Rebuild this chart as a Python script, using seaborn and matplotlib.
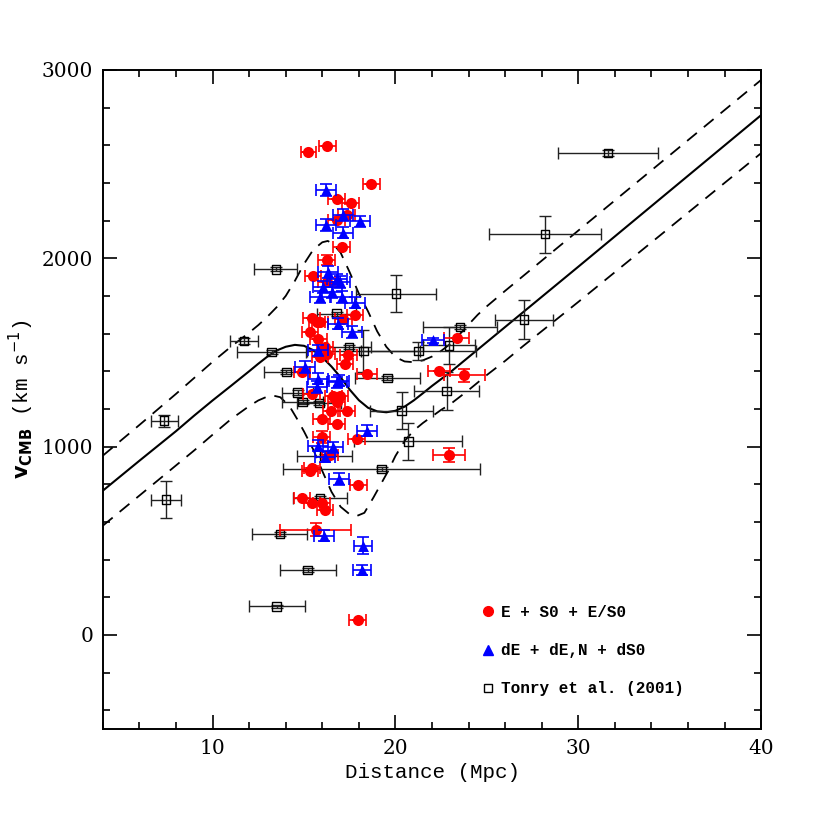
import numpy as np
import pandas as pd
import matplotlib
matplotlib.use("Agg")
import matplotlib.pyplot as plt
from matplotlib.ticker import MultipleLocator
from matplotlib.lines import Line2D
import seaborn as sns

# ---------------- data ----------------
# E + S0 + E/S0 galaxies
red_d = [15.23, 16.27, 18.68, 16.78, 17.55, 16.78, 17.33, 17.05, 16.24, 15.50,
         16.24, 17.79, 15.41, 15.87, 15.32, 17.15, 15.78, 16.14, 16.24, 15.87,
         17.42, 17.24, 18.43, 14.90, 15.41, 16.60, 16.96, 16.78, 16.50, 17.33,
         15.96, 16.78, 17.88, 15.96, 16.42, 15.32, 15.45, 17.97, 14.88, 15.45,
         15.96, 16.16, 15.63, 17.93, 22.40, 23.35, 23.77, 22.93, 15.72]
red_v = [2562, 2597, 2397, 2317, 2294, 2202, 2229, 2058, 1990, 1908,
         1874, 1697, 1682, 1661, 1610, 1679, 1573, 1528, 1493, 1475,
         1484, 1440, 1387, 1395, 1280, 1271, 1271, 1236, 1191, 1191,
         1147, 1121, 1041, 1050, 957, 872, 885, 796, 728, 702,
         698, 664, 559, 78, 1401, 1576, 1378, 956, 1661]
red_derr = [0.42, 0.46, 0.45, 0.45, 0.45, 0.45, 0.45, 0.45, 0.45, 0.45,
            0.45, 0.45, 0.45, 0.45, 0.45, 0.45, 0.45, 0.45, 0.45, 0.45,
            0.45, 0.45, 0.55, 0.45, 0.45, 0.45, 0.45, 0.45, 0.45, 0.45,
            0.45, 0.45, 0.45, 0.45, 0.45, 0.45, 0.45, 0.45, 0.45, 0.45,
            0.45, 0.45, 1.96, 0.45, 0.60, 0.68, 1.14, 0.90, 0.45]
red_verr = [0, 0, 0, 0, 0, 0, 0, 0, 25, 0,
            0, 0, 0, 0, 0, 0, 0, 0, 0, 0,
            0, 0, 0, 0, 0, 0, 0, 0, 0, 0,
            0, 0, 0, 30, 0, 0, 0, 0, 0, 0,
            0, 0, 33, 0, 0, 0, 35, 37, 0]

# dE + dE,N + dS0 galaxies
blue_d = [16.20, 18.06, 17.15, 16.20, 17.13, 16.29, 16.78, 16.05, 16.96, 15.87,
          17.05, 17.79, 15.05, 15.78, 16.78, 15.69, 16.90, 18.43, 15.78, 16.60,
          16.14, 16.93, 22.07, 16.11, 18.24, 18.19, 15.78, 16.55, 17.60, 16.87]
blue_v = [2362, 2196, 2229, 2176, 2135, 1927, 1888, 1848, 1874, 1794,
          1795, 1764, 1422, 1360, 1342, 1316, 1350, 1085, 1005, 996,
          947, 828, 1564, 527, 473, 344, 1511, 1820, 1608, 1652]
blue_derr = [0.55, 0.55, 0.55, 0.55, 0.55, 0.55, 0.55, 0.55, 0.55, 0.55,
             0.55, 0.55, 0.55, 0.55, 0.55, 0.55, 0.55, 0.55, 0.55, 0.55,
             0.55, 0.55, 0.60, 0.55, 0.50, 0.50, 0.55, 0.55, 0.55, 0.55]
blue_verr = [33, 30, 30, 30, 30, 30, 30, 30, 30, 30,
             30, 30, 30, 30, 30, 30, 30, 30, 30, 30,
             30, 30, 15, 30, 44, 25, 30, 30, 30, 30]

# Tonry et al. (2001)
ton_d = [31.63, 28.18, 27.03, 20.03, 13.46, 11.71, 13.23, 7.35, 7.45, 14.04,
         14.65, 14.92, 15.84, 17.46, 18.24, 21.25, 22.93, 23.53, 22.80, 20.34,
         20.70, 19.25, 16.13, 19.56, 16.78, 15.87, 13.68, 15.20, 13.50]
ton_v = [2559, 2128, 1674, 1812, 1941, 1560, 1502, 1137, 718, 1395,
         1286, 1236, 1231, 1528, 1507, 1507, 1537, 1635, 1294, 1191,
         1028, 881, 952, 1365, 1706, 725, 536, 344, 151]
ton_derr = [2.74, 3.06, 1.61, 2.20, 1.18, 0.75, 1.90, 0.73, 0.80, 1.23,
            0.85, 1.10, 1.20, 1.19, 3.10, 3.16, 1.44, 2.05, 1.78, 1.73,
            2.95, 5.40, 1.50, 1.78, 1.05, 1.50, 1.50, 1.54, 1.53]
ton_verr = [15, 98, 102, 100, 10, 15, 10, 31, 100, 10,
            12, 10, 10, 10, 110, 47, 99, 10, 102, 98,
            98, 10, 10, 12, 10, 10, 10, 10, 10]

# model curve (solid) and its envelope (dashed)
mod_d = [4.0, 6.0, 8.0, 9.0, 10.0, 11.0, 12.0, 12.5, 13.0, 13.5, 14.0, 14.5,
         15.0, 15.5, 16.0, 16.5, 17.0, 17.5, 18.0, 18.5, 19.0, 19.5, 20.0,
         20.5, 21.0, 21.5, 22.0, 23.0, 24.0, 25.0, 26.0, 28.0, 30.0, 40.0]
mod_v = [766, 925, 1082, 1165, 1245, 1322, 1400, 1440, 1478, 1510, 1530, 1540,
         1535, 1512, 1474, 1425, 1368, 1302, 1246, 1206, 1187, 1182, 1190,
         1212, 1245, 1283, 1322, 1395, 1475, 1555, 1635, 1795, 1955, 2760]

up_d = [4.0, 6.0, 8.0, 9.0, 10.0, 11.0, 12.0, 12.5, 13.0, 13.5, 14.0, 14.5,
        15.0, 15.5, 16.0, 16.3, 16.6, 17.0, 17.5, 18.0, 18.5, 19.0, 19.5,
        20.0, 20.5, 21.0, 21.5, 22.0, 22.5, 23.0, 23.5, 24.0, 24.5, 25.0,
        26.0, 40.0]
up_v = [952, 1115, 1280, 1365, 1450, 1530, 1605, 1645, 1690, 1740, 1800, 1880,
        1970, 2045, 2085, 2092, 2075, 2030, 1925, 1812, 1718, 1612, 1530,
        1475, 1452, 1448, 1458, 1478, 1508, 1545, 1595, 1648, 1700, 1745,
        1827, 2947]

lo_d = [4.0, 6.0, 8.0, 9.0, 10.0, 11.0, 12.0, 12.5, 13.0, 13.3, 13.7, 14.2,
        14.6, 15.0, 15.5, 16.0, 16.5, 17.0, 17.5, 17.9, 18.3, 18.8, 19.2,
        19.6, 20.0, 20.5, 21.0, 21.5, 22.0, 22.5, 23.0, 24.0, 25.0, 26.0,
        27.0, 30.0, 40.0]
lo_v = [580, 740, 900, 980, 1063, 1145, 1215, 1245, 1266, 1271, 1262, 1215,
        1150, 1080, 985, 870, 760, 680, 640, 632, 648, 730, 800,
        870, 950, 1030, 1085, 1125, 1160, 1195, 1225, 1300, 1380, 1455,
        1535, 1768, 2558]

legend_labels = ["E + S0 + E/S0", "dE + dE,N + dS0", "Tonry et al. (2001)"]
xticks = [10, 20, 30, 40]
yticks = [0, 1000, 2000, 3000]

# ---------------- plotting ----------------
sns.set_theme(style="white")
plt.rcParams["font.family"] = ["DejaVu Serif", "DejaVu Sans"]
plt.rcParams["text.color"] = "black"
plt.rcParams["axes.labelcolor"] = "black"
plt.rcParams["xtick.color"] = "black"
plt.rcParams["ytick.color"] = "black"
plt.rcParams["axes.edgecolor"] = "black"

fig = plt.figure(figsize=(8.3, 8.3), dpi=100)
ax = fig.add_axes([0.124, 0.1217, 0.793, 0.794])

red_df = pd.DataFrame({"d": red_d, "v": red_v})
blue_df = pd.DataFrame({"d": blue_d, "v": blue_v})
ton_df = pd.DataFrame({"d": ton_d, "v": ton_v})

# model lines
sns.lineplot(x=mod_d, y=mod_v, ax=ax, color="black", lw=1.5, sort=False,
             estimator=None, zorder=2)
sns.lineplot(x=up_d, y=up_v, ax=ax, color="black", lw=1.3, sort=False,
             estimator=None, zorder=2)
sns.lineplot(x=lo_d, y=lo_v, ax=ax, color="black", lw=1.3, sort=False,
             estimator=None, zorder=2)
for ln in ax.lines[1:3]:
    ln.set_dashes([7, 5])

# Tonry
ax.errorbar(ton_d, ton_v, xerr=ton_derr, yerr=ton_verr, fmt="none",
            ecolor="#222222", elinewidth=1.0, capsize=4, capthick=1.0, zorder=3)
sns.scatterplot(data=ton_df, x="d", y="v", ax=ax, marker="s", s=38,
                facecolor="none", edgecolor="black", linewidth=1.0, zorder=4)

# red
ax.errorbar(red_d, red_v, xerr=red_derr, yerr=red_verr, fmt="none",
            ecolor="red", elinewidth=1.2, capsize=4, capthick=1.2, zorder=5)
sns.scatterplot(data=red_df, x="d", y="v", ax=ax, marker="o", s=64,
                color="red", edgecolor="red", linewidth=0, zorder=6)

# blue
ax.errorbar(blue_d, blue_v, xerr=blue_derr, yerr=blue_verr, fmt="none",
            ecolor="blue", elinewidth=1.2, capsize=4, capthick=1.2, zorder=7)
sns.scatterplot(data=blue_df, x="d", y="v", ax=ax, marker="^", s=62,
                color="blue", edgecolor="blue", linewidth=0, zorder=8)

ax.set_xlim(4, 40)
ax.set_ylim(-500, 3000)
ax.set_xticks(xticks)
ax.set_yticks(yticks)
ax.xaxis.set_minor_locator(MultipleLocator(2))
ax.yaxis.set_minor_locator(MultipleLocator(200))
ax.tick_params(which="both", direction="in", top=True, right=True,
               bottom=True, left=True, width=1.2, colors="black")
ax.tick_params(which="major", length=10, labelsize=14.5, pad=7)
ax.tick_params(which="minor", length=5)
for lab in ax.get_xticklabels() + ax.get_yticklabels():
    lab.set_fontfamily("DejaVu Serif")
for sp in ax.spines.values():
    sp.set_linewidth(1.4)
    sp.set_color("black")

ax.set_xlabel("Distance (Mpc)", fontfamily="Liberation Mono", fontsize=15,
              labelpad=4, color="black")
ax.set_ylabel(r"$\mathbf{v}_{\mathbf{CMB}}$ (km s$^{-1}$)",
              fontfamily="Liberation Mono", fontsize=15, labelpad=4,
              color="black")

handles = [
    Line2D([], [], ls="none", marker="o", color="red", markersize=7),
    Line2D([], [], ls="none", marker="^", color="blue", markersize=6.5),
    Line2D([], [], ls="none", marker="s", markerfacecolor="none",
           markeredgecolor="black", markersize=6, markeredgewidth=1.0),
]
leg = ax.legend(handles, legend_labels, loc="upper left",
                bbox_to_anchor=(0.553, 0.21), frameon=False,
                prop={"family": "Liberation Mono", "weight": "bold", "size": 11.5},
                handlelength=0.8, handletextpad=0.45, labelspacing=1.45)
for t in leg.get_texts():
    t.set_color("black")

fig.savefig("out.png", dpi=100, facecolor="white")
